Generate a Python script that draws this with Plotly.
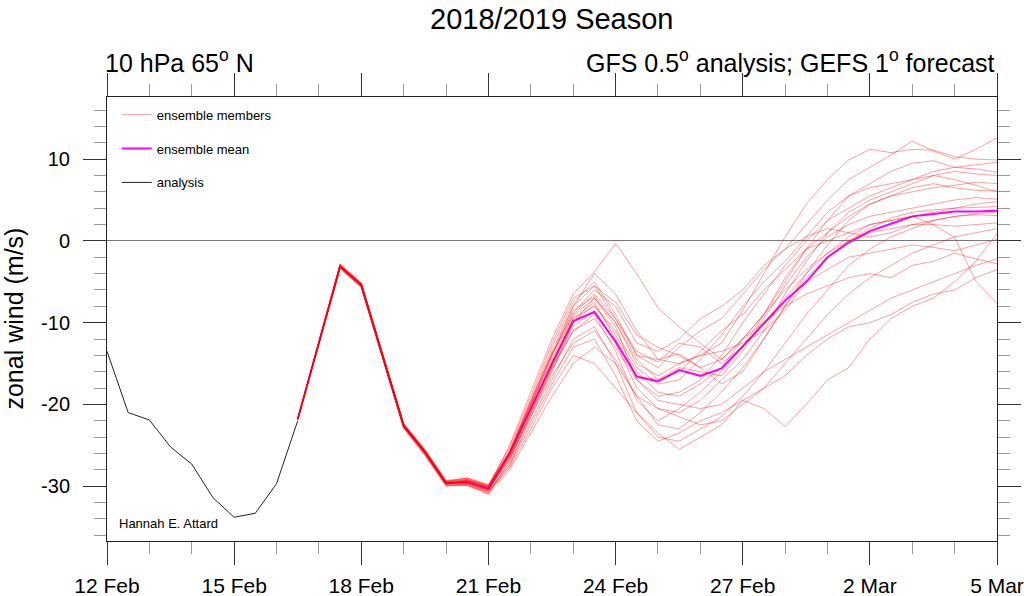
import plotly.graph_objects as go
import pandas as pd

# ---------------- data ----------------
analysis_start = "2019-02-12 00:00"
analysis = [-13.5, -21.0, -21.9, -25.2, -27.3, -31.4, -33.8, -33.3, -29.7, -22.0]

forecast_start = "2019-02-16 12:00"
ens_mean = [-21.8, -12.5, -3.1, -5.4, -14.0, -22.6, -25.8, -29.6,
            -29.5, -30.3, -26.0, -20.5, -15.0, -9.8, -8.7, -12.3, -16.6, -17.2,
            -15.8, -16.5, -15.6, -12.9, -10.1, -7.3, -5.0, -2.0, -0.2, 1.2,
            2.1, 3.0, 3.3, 3.6, 3.6, 3.7]

members = [
    [-21.8,-12.4,-2.8,-5.1,-13.7,-22.3,-25.5,-29.3,-29.0,-29.8,-25.5,-19.5,-13.0,-7.5,-5.0,-9.0,-14.0,-15.5,-13.0,-11.0,-9.5,-6.5,-3.5,-1.0,2.0,5.0,7.5,9.0,10.5,12.2,11.0,10.0,11.2,12.6],
    [-21.8,-12.5,-3.0,-5.3,-13.9,-22.5,-25.7,-29.5,-29.2,-30.0,-26.0,-20.0,-14.0,-8.0,-4.0,-6.5,-11.0,-14.5,-15.0,-14.0,-12.5,-8.5,-4.0,0.5,4.5,7.5,9.9,11.2,10.8,11.2,11.1,10.3,10.0,9.9],
    [-21.8,-12.6,-3.3,-5.6,-14.2,-22.8,-26.0,-29.8,-29.3,-30.1,-25.0,-18.5,-12.0,-6.5,-3.8,-0.3,-4.0,-8.2,-10.5,-12.5,-14.5,-12.0,-9.0,-5.0,-1.0,2.5,5.5,7.0,8.5,9.5,9.8,9.0,9.3,9.6],
    [-21.8,-12.5,-3.1,-5.4,-14.0,-22.6,-25.8,-29.6,-29.6,-30.5,-26.5,-20.5,-15.0,-9.5,-8.0,-11.0,-15.5,-17.5,-17.0,-14.5,-11.5,-8.0,-5.0,-2.5,0.5,3.5,5.5,6.5,7.0,7.5,8.5,9.0,8.8,8.4],
    [-21.8,-12.5,-3.2,-5.6,-14.1,-22.8,-26.1,-29.9,-29.8,-30.8,-27.5,-21.5,-16.0,-10.0,-7.0,-10.5,-17.0,-19.0,-18.5,-17.0,-14.0,-10.0,-6.5,-3.0,0.0,2.5,4.0,5.5,6.5,7.5,8.0,8.5,8.2,8.0],
    [-21.8,-12.4,-3.0,-5.2,-13.8,-22.4,-25.6,-29.4,-29.0,-29.9,-25.8,-20.0,-14.5,-9.0,-6.5,-9.5,-13.5,-14.8,-12.5,-13.0,-15.0,-13.0,-9.0,-4.5,-1.0,1.0,3.0,4.5,5.5,6.0,6.5,6.8,7.2,7.0],
    [-21.8,-12.6,-3.4,-5.7,-14.3,-22.9,-26.2,-29.9,-29.9,-30.9,-27.0,-21.0,-15.5,-10.5,-8.5,-12.5,-18.0,-20.5,-21.0,-19.5,-17.0,-14.5,-11.0,-6.5,-2.5,1.0,3.5,5.0,6.0,7.0,8.0,7.5,6.8,6.0],
    [-21.8,-12.5,-3.1,-5.4,-14.0,-22.6,-25.8,-29.6,-29.4,-30.2,-26.2,-20.5,-14.8,-9.5,-7.5,-12.0,-16.5,-17.0,-15.5,-16.0,-16.5,-13.5,-9.5,-5.5,-2.0,0.5,2.0,3.0,3.5,4.0,4.5,5.0,5.3,5.1],
    [-21.8,-12.5,-3.2,-5.5,-14.1,-22.7,-25.9,-29.7,-29.5,-30.4,-26.8,-21.0,-15.8,-11.0,-9.0,-13.5,-19.5,-22.0,-20.5,-18.5,-16.0,-13.0,-10.0,-7.0,-4.0,-1.5,0.5,2.0,2.5,3.0,3.5,4.0,4.5,4.8],
    [-21.8,-12.4,-2.9,-5.2,-13.8,-22.4,-25.6,-29.4,-29.1,-29.9,-25.2,-19.0,-12.5,-7.0,-5.5,-9.5,-14.0,-14.5,-13.8,-15.5,-17.5,-16.0,-12.0,-8.0,-4.5,-2.0,0.0,1.5,2.8,3.5,3.8,4.0,4.1,4.2],
    [-21.8,-12.5,-3.1,-5.5,-14.1,-22.7,-26.0,-29.8,-29.7,-30.6,-27.2,-22.0,-17.0,-12.0,-10.5,-15.0,-21.0,-24.0,-24.5,-23.0,-21.5,-19.0,-16.0,-12.5,-9.0,-6.0,-3.0,-1.0,0.5,1.5,2.5,3.0,3.3,3.5],
    [-21.8,-12.6,-3.2,-5.5,-14.1,-22.7,-25.9,-29.7,-29.2,-30.0,-25.8,-19.5,-13.8,-8.8,-6.0,-8.0,-12.5,-13.5,-12.0,-9.5,-8.0,-6.0,-3.0,-1.0,0.5,1.5,1.0,0.5,1.0,2.0,2.5,3.0,3.2,3.1],
    [-21.8,-12.5,-3.0,-5.3,-13.9,-22.5,-25.7,-29.5,-29.6,-30.5,-26.3,-20.8,-15.2,-10.0,-7.8,-11.5,-16.0,-18.5,-19.0,-17.5,-15.5,-12.0,-9.0,-6.0,-3.5,-1.5,0.0,1.0,1.5,2.0,2.0,1.8,2.0,2.2],
    [-21.8,-12.4,-3.0,-5.3,-13.9,-22.5,-25.7,-29.5,-29.3,-30.1,-26.5,-21.5,-16.5,-12.5,-11.0,-14.5,-19.0,-20.5,-21.5,-22.5,-22.0,-20.0,-18.0,-15.0,-12.0,-9.0,-6.5,-4.5,-3.0,-1.5,-0.5,0.5,1.0,1.5],
    [-21.8,-12.5,-3.3,-5.7,-14.3,-22.9,-26.2,-30.0,-29.8,-30.7,-27.8,-23.0,-18.0,-14.0,-15.0,-18.0,-21.0,-23.5,-25.5,-24.0,-22.5,-19.5,-20.5,-22.7,-20.0,-17.0,-15.5,-12.0,-9.5,-8.0,-7.0,-5.0,-2.5,0.9],
    [-21.8,-12.6,-3.2,-5.5,-14.1,-22.7,-25.9,-29.7,-29.4,-30.3,-26.0,-20.2,-14.0,-8.5,-6.8,-10.0,-15.0,-16.5,-15.0,-14.0,-13.5,-12.5,-11.0,-8.5,-5.0,-3.5,-2.0,-1.5,-1.0,-0.5,-0.8,-1.2,-0.5,0.2],
    [-21.8,-12.5,-3.1,-5.4,-14.0,-22.6,-25.8,-29.6,-29.5,-30.4,-26.6,-21.2,-15.5,-11.0,-9.5,-13.0,-17.0,-19.5,-20.0,-20.5,-20.0,-18.0,-16.0,-14.5,-13.0,-11.5,-10.0,-8.5,-7.0,-6.0,-5.0,-4.0,-3.0,-2.2],
    [-21.8,-12.4,-2.9,-5.2,-13.8,-22.4,-25.6,-29.4,-29.2,-30.1,-25.8,-19.8,-13.5,-8.0,-5.5,-7.5,-11.5,-13.0,-14.0,-15.5,-14.5,-12.0,-10.0,-8.0,-6.5,-5.5,-4.5,-4.0,-4.5,-3.0,-2.5,-1.5,-2.2,-2.8],
    [-21.8,-12.5,-3.1,-5.4,-14.0,-22.6,-25.8,-29.6,-29.7,-30.6,-27.5,-22.5,-17.5,-13.0,-12.0,-16.5,-22.0,-24.5,-23.5,-22.0,-21.0,-19.5,-18.0,-16.5,-14.0,-12.0,-10.5,-10.0,-9.0,-7.5,-6.5,-6.0,-4.5,-3.5],
    [-21.8,-12.6,-3.2,-5.5,-14.1,-22.7,-25.9,-29.7,-29.3,-30.2,-25.8,-19.8,-13.8,-9.2,-7.0,-10.0,-14.5,-17.0,-16.0,-13.5,-11.0,-9.0,-6.0,-3.5,-1.0,0.0,1.0,2.0,2.5,3.0,2.0,0.4,-4.9,-7.7],
    [-21.8,-12.5,-3.1,-5.4,-14.0,-22.6,-25.8,-29.6,-29.9,-31.0,-28.0,-23.5,-19.0,-15.0,-13.0,-15.0,-19.0,-22.5,-23.0,-21.0,-18.5,-15.5,-12.0,-8.0,-4.0,-0.5,2.5,4.5,5.5,6.5,7.0,6.5,6.2,6.1],
]

tick_dates = ["2019-02-12", "2019-02-15", "2019-02-18", "2019-02-21",
              "2019-02-24", "2019-02-27", "2019-03-02", "2019-03-05"]
tick_labels = ["12 Feb", "15 Feb", "18 Feb", "21 Feb",
               "24 Feb", "27 Feb", "2 Mar", "5 Mar"]
y_ticks = [-30, -20, -10, 0, 10]
y_labels = ["-30", "-20", "-10", "0", "10"]

title = "2018/2019 Season"
left_sub = "10 hPa 65<sup>o</sup> N"
right_sub = "GFS 0.5<sup>o</sup> analysis; GEFS 1<sup>o</sup> forecast"
y_title = "zonal wind (m/s)"
credit = "Hannah E. Attard"

# ---------------- figure ----------------
FONT = "Liberation Sans, Arial, Helvetica, sans-serif"
t_an = pd.date_range(analysis_start, periods=len(analysis), freq="12h")
t_fc = pd.date_range(forecast_start, periods=len(ens_mean), freq="12h")

fig = go.Figure()
fig.add_trace(go.Scatter(
    x=t_fc, y=ens_mean, mode="lines",
    line=dict(color="#ff00ff", width=2),
    name="ensemble mean", legendgroup="b", legendrank=2))
for i, m in enumerate(members):
    fig.add_trace(go.Scatter(
        x=t_fc, y=m, mode="lines",
        line=dict(color="rgba(255,0,0,0.38)", width=1),
        name="ensemble members", legendgroup="a", legendrank=1,
        showlegend=(i == 0), hoverinfo="skip"))
fig.add_trace(go.Scatter(
    x=t_an, y=analysis, mode="lines",
    line=dict(color="#222222", width=1),
    name="analysis", legendgroup="c", legendrank=3))

axis_common = dict(
    showline=True, linecolor="#222222", linewidth=1, mirror="allticks",
    ticks="outside", ticklen=23, tickwidth=1, tickcolor="#333333",
    showgrid=False, automargin=False,
)

fig.update_xaxes(
    type="date", range=["2019-02-12", "2019-03-05"],
    tickvals=tick_dates, ticktext=tick_labels,
    tickfont=dict(family=FONT, size=21, color="black"),
    ticklabelstandoff=3,
    minor=dict(dtick=86400000, tick0="2019-02-12", ticks="outside",
               ticklen=12, tickcolor="#999999", tickwidth=1, showgrid=False),
    zeroline=False, **axis_common)
fig.update_yaxes(
    range=[-36.7, 17.6],
    tickvals=y_ticks, ticktext=y_labels,
    tickfont=dict(family=FONT, size=20, color="black"),
    ticklabelstandoff=9,
    minor=dict(dtick=2, tick0=0, ticks="outside", ticklen=12,
               tickcolor="#999999", tickwidth=1, showgrid=False),
    zeroline=True, zerolinecolor="#777777", zerolinewidth=1,
    **axis_common)

fig.add_annotation(text=title, x=0.5, y=1.175, xref="paper", yref="paper",
                   xanchor="center", yanchor="middle", showarrow=False,
                   borderpad=0,
                   font=dict(family=FONT, size=29, color="black"))
fig.add_annotation(text=left_sub, x=-0.004, y=1.08, xref="paper", yref="paper",
                   xanchor="left", yanchor="middle", showarrow=False,
                   font=dict(family=FONT, size=25, color="black"))
fig.add_annotation(text=right_sub, x=1.0, y=1.08, xref="paper", yref="paper",
                   xanchor="right", yanchor="middle", showarrow=False,
                   font=dict(family=FONT, size=25, color="black"))
fig.add_annotation(text=y_title, x=-0.105, y=0.5, xref="paper", yref="paper",
                   xanchor="center", yanchor="middle", textangle=-90,
                   showarrow=False,
                   font=dict(family=FONT, size=25, color="black"))
fig.add_annotation(text=credit, x=0.011, y=0.04, xref="paper", yref="paper",
                   xanchor="left", yanchor="middle", showarrow=False,
                   font=dict(family=FONT, size=13, color="black"))

fig.update_layout(
    width=1024, height=596, autosize=False,
    margin=dict(l=107, r=27, t=97, b=55, autoexpand=False),
    paper_bgcolor="white", plot_bgcolor="white",
    showlegend=True,
    legend=dict(x=0.011, y=0.994, xanchor="left", yanchor="top",
                bgcolor="rgba(0,0,0,0)", borderwidth=0,
                font=dict(family=FONT, size=13, color="black"),
                tracegroupgap=14, itemwidth=30),
)

fig.write_html("out.html",
               config={"displayModeBar": False},
               post_script="document.documentElement.style.margin='0';"
                           "document.documentElement.style.overflow='hidden';"
                           "document.body.style.margin='0';"
                           "document.body.style.padding='0';"
                           "document.body.style.overflow='hidden';")
